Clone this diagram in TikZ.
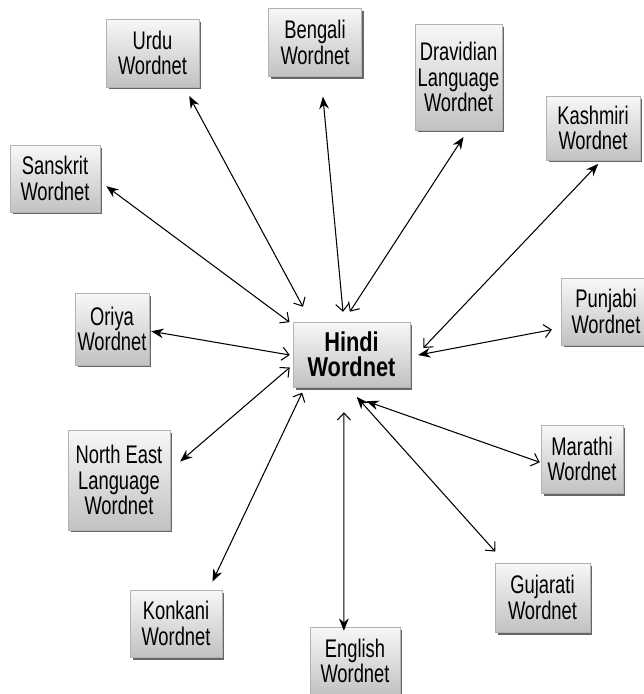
\documentclass[tikz,border=0pt]{standalone}
\usepackage{fontspec}
\setmainfont{Liberation Sans}[FakeStretch=0.72]
\newfontfamily\hindifont{Liberation Sans}[FakeStretch=0.80]
\usepackage{tikz}
\usetikzlibrary{arrows.meta,shadows}

\tikzset{
    wnbox/.style={rectangle, draw=gray!60, line width=0.3pt, top color=gray!6, bottom color=gray!48,
        drop shadow={shadow xshift=0.05cm, shadow yshift=-0.05cm, fill=black, opacity=0.6},
        align=center, minimum width=1.86cm, minimum height=1.36cm, inner sep=1pt,
        font=\fontsize{14.5}{14.5}\selectfont},
    link/.style={line width=0.6pt, {Stealth[length=7pt,width=5.5pt]}-{Straight Barb[length=4pt,width=7.5pt]}}
}

\begin{document}
\begin{tikzpicture}[x=0.02cm, y=-0.02cm]
        \useasboundingbox (0,0) rectangle (644,694);
        % Centre
        \node[wnbox, minimum width=2.34cm, minimum height=1.3cm, font=\hindifont\bfseries\fontsize{15.5}{14}\selectfont] (hindi) at (351.5,354.5) {Hindi\\Wordnet};
        % Others
        \node[wnbox] (urdu) at (152.5,53) {Urdu\\Wordnet};
        \node[wnbox] (bengali) at (315,42.5) {Bengali\\Wordnet};
        \node[wnbox, minimum width=1.74cm, minimum height=2.12cm] (dravidian) at (458.5,77) {Dravidian\\Language\\Wordnet};
        \node[wnbox, minimum width=1.88cm, minimum height=1.28cm] (kashmiri) at (593,128) {Kashmiri\\Wordnet};
        \node[wnbox, minimum width=1.8cm, minimum height=1.34cm] (sanskrit) at (55,178.5) {Sanskrit\\Wordnet};
        \node[wnbox, minimum width=1.48cm, minimum height=1.44cm] (oriya) at (112,329) {Oriya\\Wordnet};
        \node[wnbox, minimum width=1.8cm, minimum height=1.34cm] (punjabi) at (606,311.5) {Punjabi\\Wordnet};
        \node[wnbox, minimum width=2.04cm, minimum height=2cm] (northeast) at (119,480) {North East\\Language\\Wordnet};
        \node[wnbox, minimum width=1.64cm] (marathi) at (582,459) {Marathi\\Wordnet};
        \node[wnbox, minimum width=1.9cm, minimum height=1.38cm] (gujarati) at (542.5,597.5) {Gujarati\\Wordnet};
        \node[wnbox, minimum width=1.84cm, minimum height=1.34cm] (konkani) at (176,623.5) {Konkani\\Wordnet};
        \node[wnbox, minimum width=1.8cm] (english) at (355,661) {English\\Wordnet};
        % Links
        \draw[link, shorten <=0.2cm, shorten >=0.34cm] (urdu.-47) -- (hindi.141);
        \draw[link, shorten <=0.4cm, shorten >=0.2cm] (bengali.-80) -- (hindi.103);
        \draw[link, shorten <=0.16cm, shorten >=0.24cm] (dravidian.-80) -- (hindi.104);
        \draw[link, shorten <=0.1cm, shorten >=0.38cm] (kashmiri.-75) -- (hindi.-7);
        \draw[link, shorten <=0.15cm, shorten >=0.08cm] (sanskrit.-4) -- (hindi.153);
        \draw[link, shorten <=0.04cm, shorten >=0.06cm] (oriya.-3) -- (hindi.181);
        \draw[link, shorten <=0.16cm, shorten >=0.18cm] (hindi.-2) -- (punjabi.200);
        \draw[link, shorten <=0.26cm, shorten >=0.08cm] (northeast.11) -- (hindi.190);
        \draw[link, shorten <=0.84cm, shorten >=0.02cm] (hindi.-127) -- (marathi.185);
        \draw[link, shorten <=0.26cm, shorten >=0.3cm] (hindi.-96) -- (gujarati.137);
        \draw[link, shorten <=-0.08cm, shorten >=0.5cm] (english.108) -- (hindi.-103);
        \draw[link, shorten <=0.18cm, shorten >=0.12cm] (konkani.46) -- (hindi.-145);
    \end{tikzpicture}
\end{document}
